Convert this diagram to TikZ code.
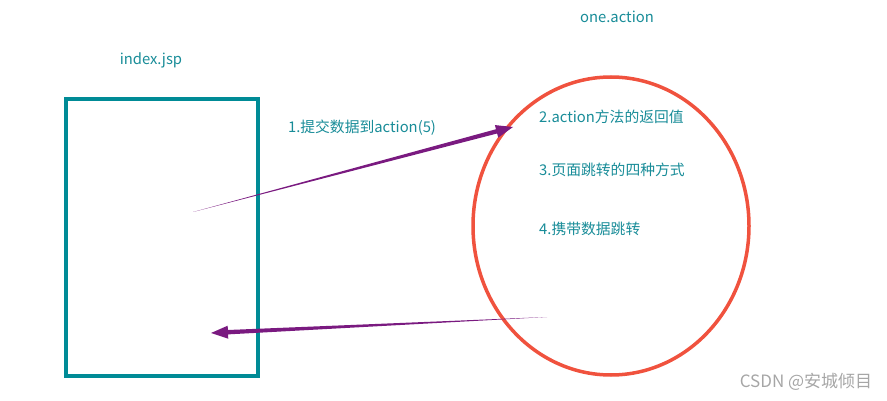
\documentclass[tikz,border=0pt]{standalone}
\usepackage{fontspec}
\setmainfont{Noto Sans CJK SC}
\usetikzlibrary{shapes.geometric,calc,positioning}

\definecolor{boxteal}{RGB}{0,139,150}
\definecolor{txtteal}{RGB}{24,140,152}
\definecolor{ringred}{RGB}{240,82,62}
\definecolor{arrpurple}{RGB}{122,26,128}

\tikzset{
    lbl/.style={text=txtteal, font=\fontsize{14.8}{17}\selectfont, inner sep=0pt},
    steplbl/.style={lbl, anchor=west}
}

% tapered arrow: \taper{tail}{tip}
\newcommand{\taper}[2]{%
    \coordinate (tb) at ($(#2)!17pt!(#1)$);
    \fill[arrpurple] (#1) -- ($(tb)!2.2pt!90:(#2)$) -- ($(tb)!6.5pt!90:(#2)$) -- (#2)
        -- ($(tb)!6.5pt!-90:(#2)$) -- ($(tb)!2.2pt!-90:(#2)$) -- cycle;
}

\begin{document}
\begin{tikzpicture}[x=1pt, y=-1pt]
        \useasboundingbox (0,0) rectangle (887,401);

        % Page box and action ring
        \node[draw=boxteal, line width=4pt, minimum width=192pt, minimum height=277pt, inner sep=0pt] (jsp) at (162,237.5) {};
        \node[ellipse, draw=ringred, line width=3.5pt, minimum width=276pt, minimum height=298pt, inner sep=0pt] (act) at (611,226) {};

        % Titles
        \node[lbl] (jsptitle) at (151,60) {index.jsp};
        \node[lbl] (acttitle) at (617,17) {one.action};

        % Steps
        \node[lbl] (submit) at (362,128) {1.提交数据到action(5)};
        \node[steplbl] (ret) at (539,117) {2.action方法的返回值};
        \node[steplbl] (jump) at (539,170) {3.页面跳转的四种方式};
        \node[steplbl] (carry) at (539,229) {4.携带数据跳转};

        % Request and response
        \coordinate (reqfrom) at (193,212);
        \coordinate (reqto) at (513,127);
        \coordinate (resfrom) at (547,317);
        \coordinate (resto) at (211,333);
        \taper{reqfrom}{reqto}
        \taper{resfrom}{resto}

        % Watermark
        \node[text=gray!70, font=\fontsize{17}{19}\selectfont, inner sep=0pt] (mark) at (806,382) {CSDN @安城倾目};
    \end{tikzpicture}
\end{document}
